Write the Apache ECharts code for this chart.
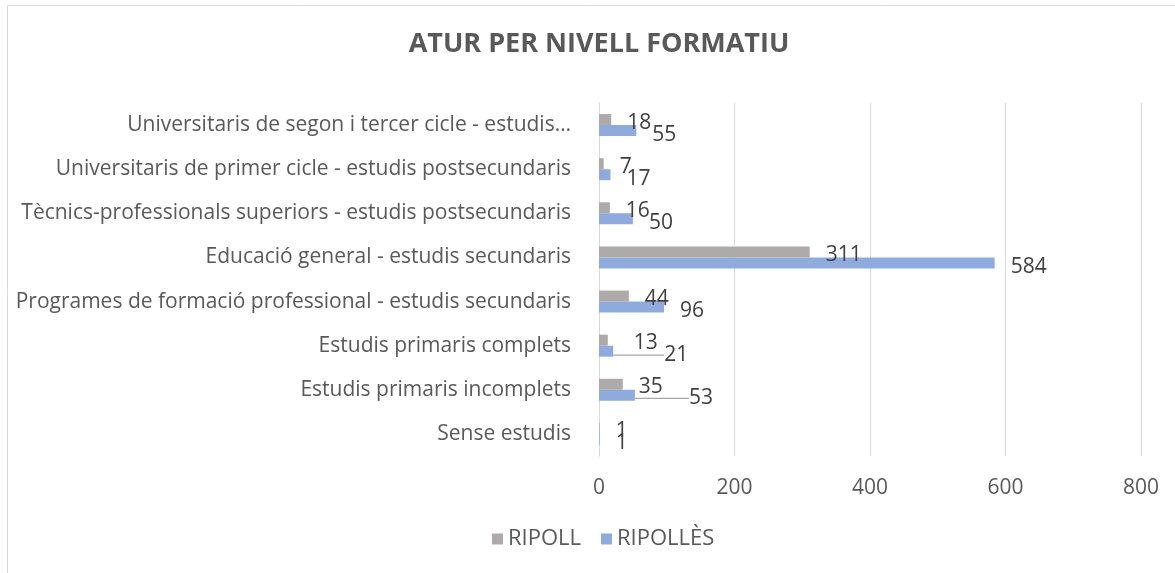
<!DOCTYPE html>
<html><head><meta charset="utf-8">
<script src="https://cdn.jsdelivr.net/npm/echarts@6/dist/echarts.min.js"></script>
<style>html,body{margin:0;padding:0;background:#fff}#c{width:1175px;height:573px}</style>
</head><body><div id="c"></div>
<script>
const categories = [
  "Sense estudis",
  "Estudis primaris incomplets",
  "Estudis primaris complets",
  "Programes de formació professional - estudis secundaris",
  "Educació general - estudis secundaris",
  "Tècnics-professionals superiors - estudis postsecundaris",
  "Universitaris de primer cicle - estudis postsecundaris",
  "Universitaris de segon i tercer cicle - estudis…"
];
const ripoll = [1, 35, 13, 44, 311, 16, 7, 18];
const ripolles = [1, 53, 21, 96, 584, 50, 17, 55];
const xTicks = [0, 200, 400, 600, 800];
const seriesNames = ["RIPOLL", "RIPOLLÈS"];

const FONT = "Open Sans";
const leaderCats = ["Estudis primaris complets", "Estudis primaris incomplets"];
const blueData = ripolles.map((v, i) => leaderCats.includes(categories[i])
  ? {value: v, labelLine: {show: true}} : {value: v, labelLine: {show: false}});

const chart = echarts.init(document.getElementById('c'), null, {renderer: 'canvas'});
chart.setOption({
  animation: false,
  backgroundColor: '#fff',
  textStyle: {fontFamily: FONT},
  graphic: [{type: 'rect', shape: {x: 7.5, y: 5.5, width: 1200, height: 600},
    style: {fill: 'none', stroke: '#d9d9d9', lineWidth: 1}, silent: true}],
  title: {text: 'ATUR PER NIVELL FORMATIU', left: 594, textAlign: 'center', top: 26,
    textStyle: {fontFamily: FONT, fontSize: 27, fontWeight: 'bold', color: '#595959'}},
  legend: {data: seriesNames, bottom: 18, left: 487, itemWidth: 11, itemHeight: 11, itemGap: 20,
    icon: 'rect', textStyle: {fontFamily: FONT, fontSize: 22, color: '#595959'}},
  grid: {left: 599, right: 34, top: 103, bottom: 117, containLabel: false},
  xAxis: {type: 'value', min: 0, max: 800, interval: 200,
    axisLine: {show: false}, axisTick: {show: false},
    splitLine: {lineStyle: {color: '#d9d9d9', width: 1}},
    axisLabel: {fontFamily: FONT, fontSize: 21, color: '#595959', margin: 22,
      formatter: v => xTicks.includes(v) ? String(v) : ''}},
  yAxis: {type: 'category', data: categories,
    axisLine: {show: true, lineStyle: {color: '#d9d9d9'}}, axisTick: {show: false},
    axisLabel: {fontFamily: FONT, fontSize: 21, color: '#595959', margin: 28}},
  series: [
    {name: seriesNames[0], type: 'bar', data: ripoll, barWidth: 11, barGap: '0%',
      itemStyle: {color: '#aeaaaa'},
      label: {show: true, position: 'right', distance: 16, offset: [0, 5],
        fontFamily: FONT, fontSize: 21, color: '#404040'},
      labelLine: {show: false},
      labelLayout: p => (categories[p.dataIndex] === "Estudis primaris complets" ? {dx: 10, dy: 3} : {dy: 3})},
    {name: seriesNames[1], type: 'bar', data: blueData, barWidth: 11, barGap: '0%',
      itemStyle: {color: '#8faadc'},
      label: {show: true, position: 'right', distance: 16, offset: [0, 6],
        fontFamily: FONT, fontSize: 21, color: '#404040'},
      labelLine: {lineStyle: {color: '#a6a6a6', width: 1.3}},
      labelLayout: p => (categories[p.dataIndex] === "Estudis primaris complets" ? {dx: 35, dy: 4} :
                         categories[p.dataIndex] === "Estudis primaris incomplets" ? {dx: 38, dy: 3} : {dy: 4})}
  ]
});
</script></body></html>
